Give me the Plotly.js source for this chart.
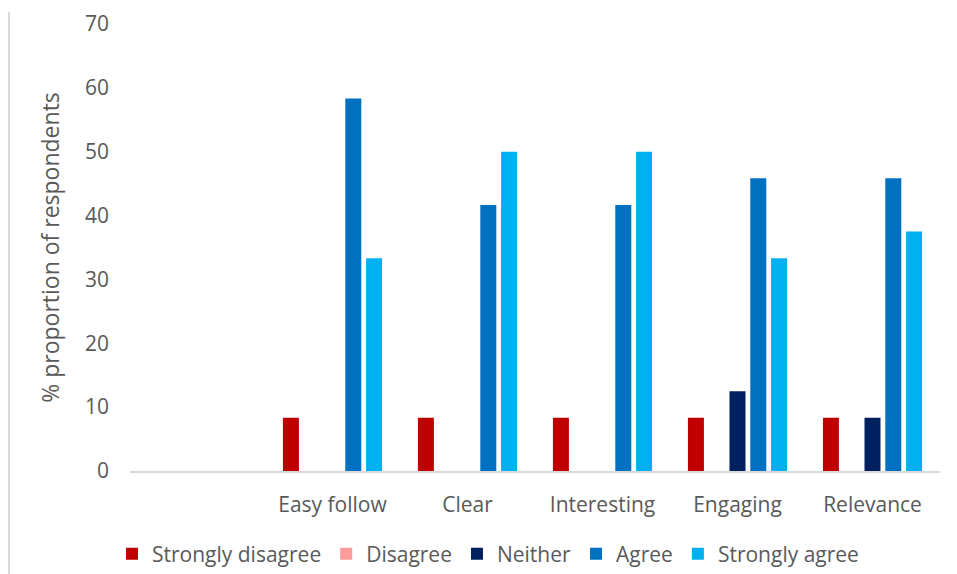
<!DOCTYPE html>
<html><head><meta charset="utf-8">
<script src="https://cdn.plot.ly/plotly-3.0.1.min.js"></script>
<style>html,body{margin:0;padding:0;background:#fff}#c{width:957px;height:574px}</style>
</head><body><div id="c"></div>
<script>
var categories = [" ", "Easy follow", "Clear", "Interesting", "Engaging", "Relevance"];
var seriesNames = ["Strongly disagree", "Disagree", "Neither", "Agree", "Strongly agree"];
var stronglyDisagree = [null, 8.33, 8.33, 8.33, 8.33, 8.33];
var disagree = [null, 0, 0, 0, 0, 0];
var neither = [null, 0, 0, 0, 12.5, 8.33];
var agree = [null, 58.33, 41.67, 41.67, 45.83, 45.83];
var stronglyAgree = [null, 33.33, 50, 50, 33.33, 37.5];
var colors = ["#C00000", "#FF9B9B", "#002060", "#0070C0", "#00B0F0"];
var values = [stronglyDisagree, disagree, neither, agree, stronglyAgree];

var font = "Open Sans, Liberation Sans, sans-serif";
var traces = seriesNames.map(function(n, i){
  return {type:"bar", name:n, x:categories, y:values[i],
    marker:{color:colors[i], line:{width:0}}, hoverinfo:"none"};
});
var W = 957, ml = 130, mr = 17, pw = W - ml - mr;
var layout = {
  width:957, height:574,
  margin:{l:ml, r:mr, t:24, b:103, autoexpand:false},
  paper_bgcolor:"#fff", plot_bgcolor:"#fff",
  barmode:"group", bargap:0.23, bargroupgap:0.23,
  font:{family:font, color:"#595959", size:21},
  xaxis:{type:"category", showgrid:false, showline:true, linecolor:"#D9D9D9", linewidth:1.5,
    ticks:"", tickfont:{size:21, color:"#595959"}, ticklabelstandoff:14, zeroline:false, automargin:false},
  yaxis:{range:[0,70], dtick:10, showgrid:false, zeroline:false, showline:false,
    ticks:"", tickfont:{size:21, color:"#595959"}, ticklabelstandoff:20, automargin:false,
    title:{text:"% proportion of respondents", font:{size:23, color:"#595959"}, standoff:18}},
  showlegend:true,
  legend:{orientation:"h", x:(112-ml)/pw, xanchor:"left", y:-0.14, yanchor:"top",
    font:{size:21, color:"#595959"}, itemwidth:30, traceorder:"normal", itemclick:false},
  shapes:[{type:"line", xref:"paper", yref:"paper", x0:(9-ml)/pw, x1:(9-ml)/pw,
    y0:-103/447, y1:(471-12)/447, line:{color:"#D9D9D9", width:2}}]
};
Plotly.newPlot("c", traces, layout, {displayModeBar:false, staticPlot:true});
</script></body></html>
